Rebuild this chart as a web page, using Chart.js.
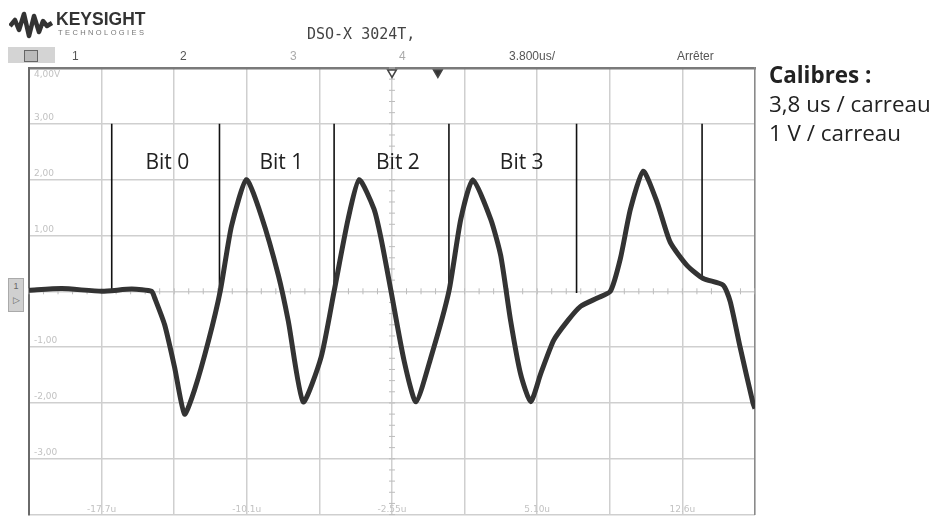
<!DOCTYPE html>
<html>
<head>
<meta charset="utf-8">
<script src="https://cdn.jsdelivr.net/npm/chart.js@4.4.1/dist/chart.umd.min.js"></script>
<style>
  html, body { margin: 0; padding: 0; background: #fff; overflow: hidden; }
  #wrap { position: relative; width: 937px; height: 525px; }
  #wrap canvas { position: absolute; left: 0; top: 0; }
  .abs { position: absolute; white-space: nowrap; }
  .hdr { font-family: "Liberation Sans", Arial, sans-serif; font-size: 12px; color: #555; top: 49px; }
  .side { font-family: "Open Sans", sans-serif; font-size: 22.4px; color: #222; line-height: 29px; left: 769px; top: 60px; }
</style>
</head>
<body>
<div id="wrap">
  <canvas id="scope" width="937" height="525"></canvas>

  <svg class="abs" style="left:9px;top:11px" width="44" height="28" viewBox="0 0 44 28">
    <polyline points="1,15 6,9 10,19 15,3 20,25 25,5 30,21 34,10 38,15 43,12" fill="none" stroke="#333" stroke-width="4.5" stroke-linejoin="round"/>
  </svg>
  <div class="abs" style="left:56px;top:9px;font:bold 17.5px 'Liberation Sans',Arial,sans-serif;color:#333">KEYSIGHT</div>
  <div class="abs" style="left:58px;top:28px;font:7.5px 'Liberation Sans',Arial,sans-serif;color:#777;letter-spacing:2.4px">TECHNOLOGIES</div>
  <div class="abs" style="left:307px;top:25px;font:15px 'DejaVu Sans Mono',monospace;color:#444">DSO-X 3024T,</div>

  <div class="abs" style="left:8px;top:47px;width:47px;height:16px;background:#d4d4d4"></div>
  <div class="abs" style="left:24px;top:50px;width:12px;height:10px;border:1px solid #666;background:#bbb"></div>
  <div class="abs hdr" style="left:72px">1</div>
  <div class="abs hdr" style="left:180px">2</div>
  <div class="abs hdr" style="left:290px;color:#aaa">3</div>
  <div class="abs hdr" style="left:399px;color:#aaa">4</div>
  <div class="abs hdr" style="left:509px">3.800us/</div>
  <div class="abs hdr" style="left:677px">Arrêter</div>

  <div class="abs" style="left:8px;top:278px;width:16px;height:34px;background:#d0d0d0;border:1px solid #aaa;box-sizing:border-box;font:9px 'Liberation Sans',sans-serif;color:#666;text-align:center;line-height:14px">1<br>&#9655;</div>

  <div class="abs side"><b>Calibres :</b><br>3,8 us / carreau<br>1 V / carreau</div>
</div>

<script>
// trace: time in us, voltage in V
const waveT = [-21.55, -19.83, -17.74, -16.17, -15.13, -14.97, -14.45, -13.93, -13.41, -12.89,
  -12.15, -11.53, -10.95, -10.17, -9.39, -8.50, -7.98, -7.20, -6.26, -5.58,
  -4.85, -4.27, -3.49, -3.12, -2.60, -1.92, -1.30, -0.51, 0.43, 1.05,
  1.68, 2.62, 3.14, 3.66, 4.18, 4.71, 5.23, 5.91, 6.64, 7.32,
  8.20, 8.88, 9.40, 9.93, 10.60, 11.33, 12.01, 12.90, 13.74, 14.78,
  15.15, 15.67, 16.35, 16.45];
const waveV = [0.02, 0.05, 0.0, 0.04, 0.0, -0.12, -0.6, -1.36, -2.2, -1.77,
  -0.88, 0.02, 1.17, 2.0, 1.35, 0.29, -0.53, -1.98, -1.18, 0.0,
  1.29, 2.0, 1.47, 0.94, 0.0, -1.24, -1.98, -1.18, 0.0, 1.29,
  2.0, 1.29, 0.64, -0.53, -1.48, -1.98, -1.48, -0.88, -0.53, -0.27,
  -0.12, 0.0, 0.58, 1.47, 2.15, 1.59, 0.88, 0.46, 0.23, 0.11,
  -0.18, -1.0, -2.01, -2.1];

// bit separators: time and lower end (upper end is 3 V)
const sepT = [-17.22, -11.58, -5.58, 0.43, 7.11, 13.68];
const sepBottom = [0.0, 0.0, 0.0, 0.0, -0.03, 0.23];
const sepTop = 3.0;

const bitNames = ["Bit 0", "Bit 1", "Bit 2", "Bit 3"];
const bitT = [-14.31, -8.34, -2.24, 4.24];
const bitV = 2.29;

// screen grid
const gridT = [-21.55, -17.75, -13.95, -10.15, -6.35, -2.55, 1.25, 5.05, 8.85, 12.65, 16.45];
const gridTLabels = ["", "-17.7u", "", "-10.1u", "", "-2.55u", "", "5.10u", "", "12.6u", ""];
const gridV = [-4, -3, -2, -1, 0, 1, 2, 3, 4];
const gridVLabels = ["", "-3,00", "-2,00", "-1,00", "", "1,00", "2,00", "3,00", "4,00V"];
const centerT = -2.55;

const markT = [-2.55, -0.15];

const sepData = [];
sepT.forEach((t, i) => {
  sepData.push({ x: t, y: sepTop }, { x: t, y: sepBottom[i] }, { x: t, y: null });
});

const scopeDecor = {
  id: "scopeDecor",
  beforeDatasetsDraw(chart) {
    const { ctx, scales: { x, y } } = chart;
    const cx = x.getPixelForValue(centerT);
    const cy = y.getPixelForValue(0);
    ctx.save();
    ctx.strokeStyle = "#bdbdbd";
    ctx.lineWidth = 1;
    ctx.beginPath();
    for (let v = -4; v <= 4.001; v += 0.2) {
      const py = y.getPixelForValue(v);
      ctx.moveTo(cx - 3, py); ctx.lineTo(cx + 3, py);
    }
    for (let t = gridT[0]; t <= gridT[10] + 0.01; t += 0.76) {
      const px = x.getPixelForValue(t);
      ctx.moveTo(px, cy - 3); ctx.lineTo(px, cy + 3);
    }
    ctx.stroke();
    ctx.restore();
  },
  afterDatasetsDraw(chart) {
    const { ctx, scales: { x, y } } = chart;
    ctx.save();
    ctx.font = '21px "Open Sans", sans-serif';
    ctx.fillStyle = "#222";
    ctx.textAlign = "center";
    ctx.textBaseline = "middle";
    bitNames.forEach((n, i) => {
      ctx.fillText(n, x.getPixelForValue(bitT[i]), y.getPixelForValue(bitV));
    });
    ctx.restore();
  },
};

const faint = { family: "DejaVu Sans", size: 9 };

new Chart(document.getElementById("scope"), {
  type: "line",
  data: {
    datasets: [
      {
        data: waveT.map((t, i) => ({ x: t, y: waveV[i] })),
        borderColor: "#333",
        borderWidth: 5,
        pointRadius: 0,
        tension: 0.2,
      },
      {
        data: sepData,
        borderColor: "#111",
        borderWidth: 1.6,
        pointRadius: 0,
        spanGaps: false,
      },
      {
        type: "scatter",
        data: markT.map((t) => ({ x: t, y: 3.92 })),
        pointStyle: "triangle",
        rotation: 180,
        radius: 5,
        borderWidth: 1.5,
        borderColor: "#444",
        backgroundColor: ["#fff", "#333"],
        clip: false,
      },
    ],
  },
  options: {
    responsive: false,
    animation: false,
    layout: { padding: { left: 19, top: 68, right: 182, bottom: 4 } },
    plugins: { legend: { display: false }, tooltip: { enabled: false } },
    scales: {
      x: {
        type: "linear",
        min: gridT[0],
        max: gridT[10],
        afterBuildTicks: (s) => { s.ticks = gridT.map((v) => ({ value: v })); },
        grid: { color: "#cfcfcf", lineWidth: 1.5, drawTicks: false },
        border: { display: false },
        ticks: {
          mirror: true,
          padding: 0,
          color: "#c2c2c2",
          font: faint,
          maxRotation: 0,
          autoSkip: false,
          callback: (v, i) => gridTLabels[i],
        },
      },
      xTop: {
        type: "linear",
        position: "top",
        min: gridT[0],
        max: gridT[10],
        grid: { display: false, drawTicks: false },
        border: { display: true, color: "#7a7a7a", width: 2.5 },
        ticks: { display: false },
      },
      y: {
        min: -4,
        max: 4,
        // the top label sits under the frame, the others just above their line
        afterBuildTicks: (s) => { s.ticks = gridV.map((v) => ({ value: v === 4 ? 3.77 : v })); },
        grid: {
          color: (c) => (c.index === gridV.length - 1 ? "rgba(0,0,0,0)" : "#cfcfcf"),
          lineWidth: 1.5,
          drawTicks: false,
        },
        border: { display: true, color: "#6a6a6a", width: 2 },
        ticks: {
          mirror: true,
          padding: 5,
          labelOffset: -6,
          color: "#c2c2c2",
          font: faint,
          autoSkip: false,
          callback: (v, i) => gridVLabels[i],
        },
      },
      yRight: {
        position: "right",
        min: -4,
        max: 4,
        grid: { display: false, drawTicks: false },
        border: { display: true, color: "#8a8a8a", width: 1.5 },
        ticks: { display: false },
      },
    },
  },
  plugins: [scopeDecor],
});
</script>
</body>
</html>
